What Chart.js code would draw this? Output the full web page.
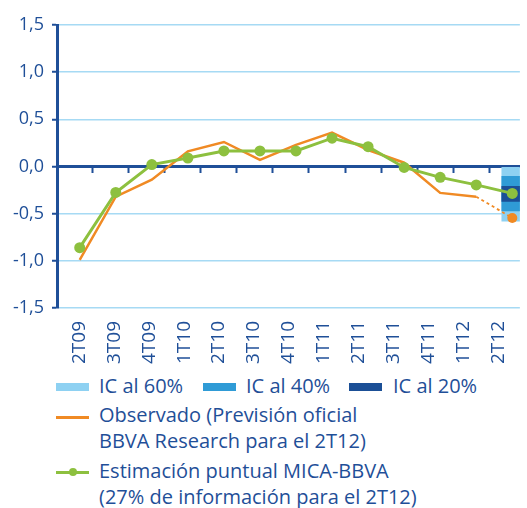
<!DOCTYPE html>
<html>
<head>
<meta charset="utf-8">
<script src="https://cdn.jsdelivr.net/npm/chart.js@4.4.1/dist/chart.umd.min.js"></script>
<style>
  body { margin: 0; background: #fff; }
  #wrap { position: relative; width: 527px; height: 508px; font-family: "Open Sans", sans-serif; color: #1f4f98; }
  #c { position: absolute; left: 0; top: 0; }
  .lg { position: absolute; font-size: 20px; line-height: 26px; white-space: nowrap; }
  .sw { position: absolute; width: 33px; height: 8px; }
  .ln { position: absolute; width: 33px; height: 3px; }
  .dot { position: absolute; width: 8px; height: 8px; border-radius: 50%; }
</style>
</head>
<body>
<div id="wrap">
  <canvas id="c" width="527" height="372"></canvas>
  <div class="sw" style="left:56px;top:383px;background:#8ed1f2"></div>
  <div class="lg" style="left:99px;top:373px">IC al 60%</div>
  <div class="sw" style="left:203px;top:383px;background:#2f9bd6"></div>
  <div class="lg" style="left:246px;top:373px">IC al 40%</div>
  <div class="sw" style="left:349px;top:383px;background:#1b4f96"></div>
  <div class="lg" style="left:393px;top:373px">IC al 20%</div>

  <div class="ln" style="left:56px;top:416px;background:#f08a24"></div>
  <div class="lg" style="left:99px;top:402px">Observado (Previsión oficial<br>BBVA Research para el 2T12)</div>

  <div class="ln" style="left:56px;top:471px;background:#8dc03f"></div>
  <div class="dot" style="left:69px;top:468px;background:#8dc03f"></div>
  <div class="lg" style="left:99px;top:458px">Estimación puntual MICA-BBVA<br>(27% de información para el 2T12)</div>
</div>
<script>
const categories = ['2T09', '3T09', '4T09', '1T10', '2T10', '3T10', '4T10', '1T11', '2T11', '3T11', '4T11', '1T12', '2T12'];
const observed = [-0.99, -0.32, -0.14, 0.16, 0.26, 0.07, 0.23, 0.36, 0.175, 0.04, -0.28, -0.32, -0.545];
const estimate = [-0.86, -0.275, 0.02, 0.09, 0.165, 0.165, 0.165, 0.30, 0.21, -0.01, -0.115, -0.195, -0.285];
const ci60 = [-0.58, 0.0];
const ci40 = [-0.47, -0.105];
const ci20 = [-0.37, -0.21];
const yTicks = [-1.5, -1.0, -0.5, 0.0, 0.5, 1.0, 1.5];
const forecastIndex = 12;

const darkBlue = '#1f4f98';
const gridBlue = '#a6daf4';

const ctx = document.getElementById('c');

const toPoints = arr => arr.map((v, i) => ({ x: i, y: v }));
const ciBar = range => [{ x: forecastIndex, y: range }];

new Chart(ctx, {
  data: {
    datasets: [
      {
        type: 'line',
        label: 'Estimación puntual MICA-BBVA',
        data: toPoints(estimate),
        borderColor: '#8dc03f',
        backgroundColor: '#8dc03f',
        borderWidth: 3,
        pointRadius: 5.5,
        pointBorderWidth: 0,
        tension: 0,
        order: 0
      },
      {
        type: 'line',
        label: 'Observado',
        data: toPoints(observed),
        borderColor: '#f08a24',
        backgroundColor: '#f08a24',
        borderWidth: 2.5,
        pointRadius: observed.map((v, i) => i === forecastIndex ? 5 : 0),
        pointBorderWidth: 0,
        tension: 0,
        segment: {
          borderDash: s => s.p1DataIndex === forecastIndex ? [3, 3] : undefined,
          borderWidth: s => s.p1DataIndex === forecastIndex ? 1.8 : undefined
        },
        order: 1
      },
      { type: 'bar', label: 'IC al 20%', data: ciBar(ci20), backgroundColor: '#1b4f96', barThickness: 21, grouped: false, order: 2 },
      { type: 'bar', label: 'IC al 40%', data: ciBar(ci40), backgroundColor: '#2f9bd6', barThickness: 21, grouped: false, order: 3 },
      { type: 'bar', label: 'IC al 60%', data: ciBar(ci60), backgroundColor: '#8ed1f2', barThickness: 21, grouped: false, order: 4 }
    ]
  },
  options: {
    responsive: false,
    animation: false,
    layout: { padding: { top: 25, left: 0, right: 0, bottom: 0 } },
    plugins: { legend: { display: false }, tooltip: { enabled: false } },
    scales: {
      x: {
        type: 'linear',
        display: false,
        offset: false,
        min: -0.63,
        max: 12.21
      },
      xz: {
        type: 'linear',
        position: { y: 0 },
        offset: false,
        min: -0.63,
        max: 12.21,
        afterBuildTicks: axis => {
          axis.ticks = categories.slice(1).map((c, i) => ({ value: i + 0.36 }));
        },
        grid: { drawOnChartArea: false, drawTicks: true, tickLength: 5, tickWidth: 2, color: darkBlue },
        border: { color: darkBlue, width: 3 },
        ticks: { display: false }
      },
      xl: {
        type: 'linear',
        position: 'bottom',
        offset: false,
        min: -0.634,
        max: 12.6,
        afterBuildTicks: axis => {
          axis.ticks = categories.map((c, i) => ({ value: i }));
        },
        afterFit: scale => { scale.height = 64; },
        grid: { display: false },
        border: { display: false },
        ticks: {
          autoSkip: false,
          minRotation: 90,
          maxRotation: 90,
          padding: 5,
          color: darkBlue,
          font: { family: 'Open Sans', size: 19 },
          callback: v => categories[v]
        }
      },
      y: {
        min: -1.5,
        max: 1.5,
        afterBuildTicks: axis => {
          axis.ticks = yTicks.map(v => ({ value: v }));
        },
        afterFit: scale => { scale.width = 57; },
        grid: { color: gridBlue, lineWidth: 1.5, tickLength: 5, tickColor: darkBlue, tickWidth: 2 },
        border: { color: darkBlue, width: 3 },
        ticks: {
          padding: 8,
          color: darkBlue,
          font: { family: 'Open Sans', size: 18 },
          callback: v => v.toFixed(1).replace('.', ',')
        }
      }
    }
  }
});
</script>
</body>
</html>
